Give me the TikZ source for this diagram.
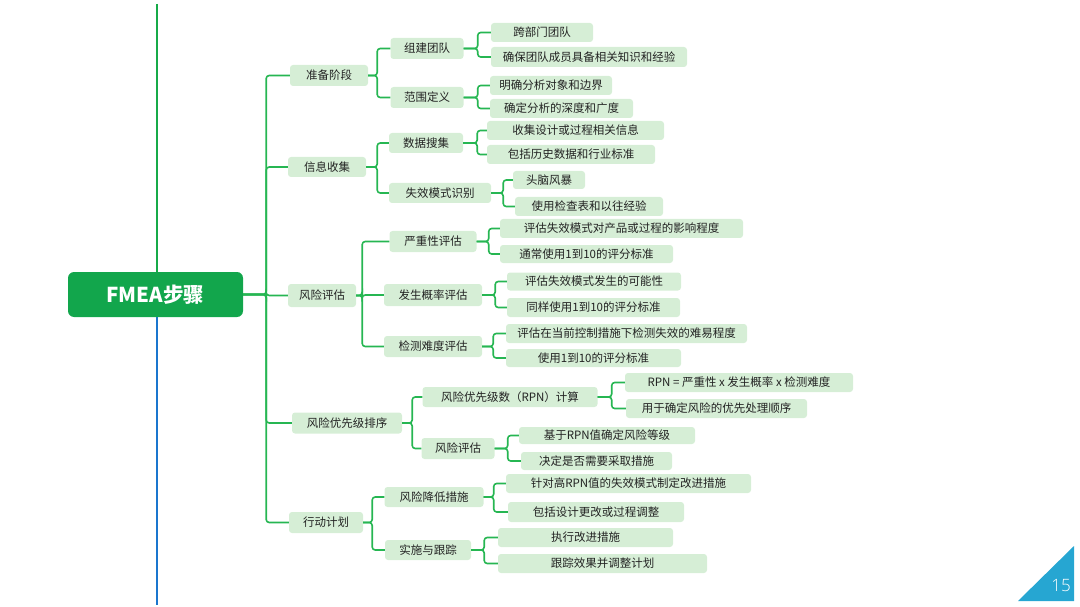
\documentclass[tikz,border=0pt]{standalone}
\usepackage{fontspec}
\setmainfont{Noto Sans CJK SC}
\newfontfamily\numfont{Open Sans Light}[Scale=1]
\definecolor{rootfill}{RGB}{18,166,76}
\definecolor{nodefill}{RGB}{214,238,214}
\definecolor{connc}{RGB}{38,182,82}
\definecolor{leftgreen}{RGB}{22,170,72}
\definecolor{leftblue}{RGB}{26,118,206}
\definecolor{tri}{RGB}{38,166,210}
\definecolor{txt}{RGB}{35,35,35}
\tikzset{
  box/.style={fill=nodefill, rounded corners=3pt, inner sep=0pt, text=txt,
    font=\fontsize{11.5}{13}\selectfont},
  conn/.style={draw=connc, line width=1.6pt, rounded corners=3pt},
}
\newcommand\br[3]{\draw[conn] (#1.east) -- ++(#3,0) |- (#2.west);}
\newcommand\bx[5]{\node[box, minimum width=#3pt, minimum height=#4pt] (#1) at (#2) {#5};}
\begin{document}
\begin{tikzpicture}[x=1pt,y=-1pt]
\useasboundingbox (0,0) rectangle (1080,607);
% left vertical line
\coordinate (lt) at (157,4);
\coordinate (lm1) at (157,272);
\coordinate (lm2) at (157,317);
\coordinate (lb) at (157,605);
\draw[leftgreen, line width=2.6pt] (lt) -- (lm1);
\draw[leftblue, line width=2.6pt] (lm2) -- (lb);
% root
\node[fill=rootfill, rounded corners=6pt, text=white, minimum width=175pt, minimum height=45pt, inner sep=0pt,
  font=\fontsize{20.5}{22}\selectfont\bfseries] (root) at (155.5,294.5) {FMEA步骤};
% level 1
\bx{p1}{329,75.5}{78}{21}{准备阶段}
\bx{p2}{327,167}{78}{20}{信息收集}
\bx{p3}{322,295.5}{68}{23}{风险评估}
\bx{p4}{347,423}{110}{21}{风险优先级排序}
\bx{p5}{326,522.5}{74}{21}{行动计划}
% level 2
\bx{q11}{427,48.5}{73}{21}{组建团队}
\bx{q12}{427,97.5}{73}{21}{范围定义}
\bx{q21}{426,143}{74}{20}{数据搜集}
\bx{q22}{440,193}{102}{20}{失效模式识别}
\bx{q31}{433,241.5}{87}{21}{严重性评估}
\bx{q32}{433,295}{98}{22}{发生概率评估}
\bx{q33}{433,346.5}{98}{21}{检测难度评估}
\bx{q41}{510,397}{175}{20}{风险优先级数（RPN）计算}
\bx{q42}{458,448.5}{73}{21}{风险评估}
\bx{q51}{434,497}{99}{20}{风险降低措施}
\bx{q52}{428,550}{86}{20}{实施与跟踪}
% leaves
\bx{r111}{542,32.5}{102}{19}{跨部门团队}
\bx{r112}{589,57}{196}{20}{确保团队成员具备相关知识和经验}
\bx{r121}{551,85.5}{122}{19}{明确分析对象和边界}
\bx{r122}{561.5,108.5}{143}{19}{确定分析的深度和广度}
\bx{r211}{575.5,130.5}{177}{19}{收集设计或过程相关信息}
\bx{r212}{571,154.5}{168}{19}{包括历史数据和行业标准}
\bx{r221}{549,180}{72}{18}{头脑风暴}
\bx{r222}{589,206.5}{148}{19}{使用检查表和以往经验}
\bx{r311}{621.5,228.5}{243}{19}{评估失效模式对产品或过程的影响程度}
\bx{r312}{586.5,254}{173}{18}{通常使用1到10的评分标准}
\bx{r321}{594,281.5}{174}{18}{评估失效模式发生的可能性}
\bx{r322}{593.5,307.5}{173}{19}{同样使用1到10的评分标准}
\bx{r331}{626.5,333.5}{241}{19}{评估在当前控制措施下检测失效的难易程度}
\bx{r332}{593.5,358}{175}{18}{使用1到10的评分标准}
\bx{r411}{739,382.5}{228}{19}{RPN = 严重性 x 发生概率 x 检测难度}
\bx{r412}{716.5,408.5}{181}{19}{用于确定风险的优先处理顺序}
\bx{r421}{607,435.5}{176}{17}{基于RPN值确定风险等级}
\bx{r422}{596.5,461}{151}{18}{决定是否需要采取措施}
\bx{r511}{628.5,483.5}{245}{19}{针对高RPN值的失效模式制定改进措施}
\bx{r512}{596,512}{176}{20}{包括设计更改或过程调整}
\bx{r521}{585.5,537.5}{175}{19}{执行改进措施}
\bx{r522}{602.5,563.5}{209}{19}{跟踪效果并调整计划}
% trunk
\foreach \c in {p1,p2,p3,p4,p5} {\draw[conn] (root.east) -- ++(23,0) |- (\c.west);}
% brackets
\br{p1}{q11}{9}\br{p1}{q12}{9}
\br{p2}{q21}{11}\br{p2}{q22}{11}
\br{p3}{q31}{6}\br{p3}{q32}{6}\br{p3}{q33}{6}
\br{p4}{q41}{10}\br{p4}{q42}{10}
\br{p5}{q51}{9}\br{p5}{q52}{9}
\br{q11}{r111}{14}\br{q11}{r112}{14}
\br{q12}{r121}{14}\br{q12}{r122}{14}
\br{q21}{r211}{14}\br{q21}{r212}{14}
\br{q22}{r221}{12}\br{q22}{r222}{12}
\br{q31}{r311}{12}\br{q31}{r312}{12}
\br{q32}{r321}{13}\br{q32}{r322}{13}
\br{q33}{r331}{11}\br{q33}{r332}{11}
\br{q41}{r411}{14}\br{q41}{r412}{14}
\br{q42}{r421}{13}\br{q42}{r422}{13}
\br{q51}{r511}{10}\br{q51}{r512}{10}
\br{q52}{r521}{13}\br{q52}{r522}{13}
% page number
\coordinate (t1) at (1018,601);
\coordinate (t2) at (1074,546);
\coordinate (t3) at (1074,601);
\fill[tri] (t1) -- (t2) -- (t3) -- cycle;
\node[text=white, font=\numfont\fontsize{17}{18}\selectfont, inner sep=0pt] (pg) at (1061,586) {15};
\end{tikzpicture}
\end{document}
